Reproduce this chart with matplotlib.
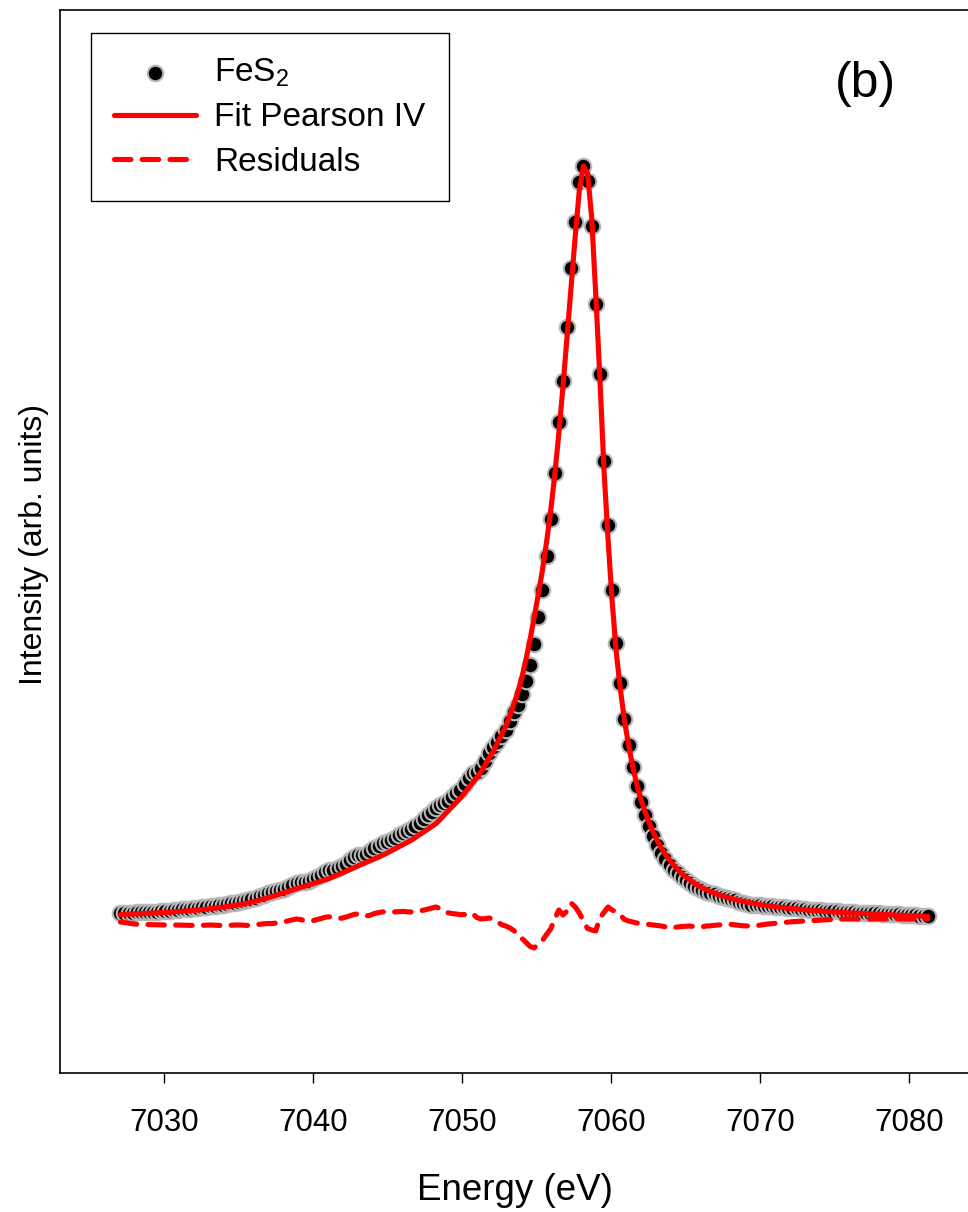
import matplotlib
matplotlib.use("Agg")
import matplotlib.pyplot as plt

# Fe K-beta emission of FeS2: measured points, Pearson IV fit and fit residuals
energy = [
    7027.050, 7027.325, 7027.600, 7027.875, 7028.150, 7028.425, 7028.700, 7028.975,
    7029.250, 7029.525, 7029.800, 7030.075, 7030.350, 7030.625, 7030.900, 7031.175,
    7031.450, 7031.725, 7032.000, 7032.275, 7032.550, 7032.825, 7033.100, 7033.375,
    7033.650, 7033.925, 7034.200, 7034.475, 7034.750, 7035.025, 7035.300, 7035.575,
    7035.850, 7036.125, 7036.400, 7036.675, 7036.950, 7037.225, 7037.500, 7037.775,
    7038.050, 7038.325, 7038.600, 7038.875, 7039.150, 7039.425, 7039.700, 7039.975,
    7040.250, 7040.525, 7040.800, 7041.075, 7041.350, 7041.625, 7041.900, 7042.175,
    7042.450, 7042.725, 7043.000, 7043.275, 7043.550, 7043.825, 7044.100, 7044.375,
    7044.650, 7044.925, 7045.200, 7045.475, 7045.750, 7046.025, 7046.300, 7046.575,
    7046.850, 7047.125, 7047.400, 7047.675, 7047.950, 7048.225, 7048.500, 7048.775,
    7049.050, 7049.325, 7049.600, 7049.875, 7050.150, 7050.425, 7050.700, 7050.975,
    7051.250, 7051.525, 7051.800, 7052.075, 7052.350, 7052.625, 7052.900, 7053.175,
    7053.450, 7053.725, 7054.000, 7054.275, 7054.550, 7054.825, 7055.100, 7055.375,
    7055.650, 7055.925, 7056.200, 7056.475, 7056.750, 7057.025, 7057.300, 7057.575,
    7057.850, 7058.125, 7058.400, 7058.675, 7058.950, 7059.225, 7059.500, 7059.775,
    7060.050, 7060.325, 7060.600, 7060.875, 7061.150, 7061.425, 7061.700, 7061.975,
    7062.250, 7062.525, 7062.800, 7063.075, 7063.350, 7063.625, 7063.900, 7064.175,
    7064.450, 7064.725, 7065.000, 7065.275, 7065.550, 7065.825, 7066.100, 7066.375,
    7066.650, 7066.925, 7067.200, 7067.475, 7067.750, 7068.025, 7068.300, 7068.575,
    7068.850, 7069.125, 7069.400, 7069.675, 7069.950, 7070.225, 7070.500, 7070.775,
    7071.050, 7071.325, 7071.600, 7071.875, 7072.150, 7072.425, 7072.700, 7072.975,
    7073.250, 7073.525, 7073.800, 7074.075, 7074.350, 7074.625, 7074.900, 7075.175,
    7075.450, 7075.725, 7076.000, 7076.275, 7076.550, 7076.825, 7077.100, 7077.375,
    7077.650, 7077.925, 7078.200, 7078.475, 7078.750, 7079.025, 7079.300, 7079.575,
    7079.850, 7080.125, 7080.400, 7080.675, 7080.950, 7081.225,
]

intensity = [
    7.7, 7.7, 8.1, 8.1, 8.6, 8.6, 9.0, 9.0, 9.5, 9.5,
    9.8, 10.3, 10.4, 11.0, 11.1, 11.6, 11.8, 12.5, 12.7, 13.4,
    13.7, 14.3, 14.6, 15.4, 15.7, 16.5, 16.9, 17.8, 18.2, 19.2,
    19.8, 20.9, 22.1, 23.4, 24.9, 26.4, 27.8, 28.8, 29.8, 30.9,
    31.6, 34.0, 36.3, 38.4, 39.1, 39.3, 40.2, 41.7, 44.2, 46.4,
    48.9, 50.7, 51.5, 52.7, 54.6, 57.5, 60.6, 63.7, 66.2, 66.3,
    67.5, 69.8, 72.9, 75.3, 77.6, 79.1, 81.2, 83.2, 85.7, 88.0,
    89.8, 91.8, 95.0, 98.5, 101.8, 105.6, 109.4, 113.3, 116.0, 117.7,
    120.4, 123.9, 127.8, 131.4, 136.7, 143.4, 147.7, 149.1, 153.0, 160.3,
    167.8, 173.6, 179.2, 184.8, 191.5, 200.2, 208.7, 216.5, 227.0, 240.5,
    256.5, 277.0, 304.5, 331.5, 365.5, 402.0, 448.0, 499.0, 540.0, 594.0,
    653.0, 699.0, 739.0, 755.0, 740.5, 695.0, 617.0, 547.0, 460.5, 396.0,
    331.0, 278.0, 238.0, 202.5, 176.0, 154.0, 135.0, 119.5, 106.5, 95.0,
    85.0, 76.2, 68.5, 61.7, 55.8, 51.5, 47.7, 44.3, 41.2, 38.5,
    35.4, 32.7, 30.8, 29.4, 27.8, 26.6, 25.3, 24.3, 23.3, 22.0,
    20.6, 19.4, 18.2, 17.4, 16.5, 16.1, 15.6, 15.4, 15.1, 14.8,
    14.4, 14.1, 13.7, 13.1, 13.0, 12.7, 12.1, 12.0, 11.5, 11.5,
    11.0, 10.9, 10.5, 10.4, 9.9, 9.8, 9.3, 9.3, 8.9, 8.9,
    8.5, 8.4, 8.0, 8.0, 7.7, 7.7, 7.3, 7.3, 6.9, 6.9,
    6.6, 6.5, 6.1, 6.1, 5.7, 5.5, 5.1, 4.7,
]

fit = [
    6.5, 6.7, 6.8, 7.0, 7.2, 7.4, 7.5, 7.7, 7.9, 8.1,
    8.3, 8.6, 8.8, 9.1, 9.4, 9.6, 9.9, 10.3, 10.6, 11.0,
    11.4, 11.8, 12.3, 12.8, 13.3, 13.8, 14.4, 15.0, 15.6, 16.3,
    17.1, 17.9, 18.8, 19.8, 20.9, 22.0, 23.2, 24.5, 25.8, 27.1,
    28.4, 29.8, 31.1, 32.4, 33.7, 34.9, 36.2, 37.4, 38.7, 39.9,
    41.1, 42.5, 44.3, 46.1, 47.8, 49.6, 51.4, 53.2, 55.0, 56.8,
    58.5, 60.3, 62.1, 63.9, 65.7, 67.8, 69.9, 72.1, 74.3, 76.4,
    78.6, 80.8, 83.5, 86.3, 89.0, 91.8, 94.5, 97.3, 101.5, 105.9,
    110.2, 114.5, 118.8, 123.1, 128.2, 133.4, 138.5, 143.6, 149.0, 155.9,
    162.8, 169.8, 178.0, 186.3, 194.5, 205.0, 216.5, 229.0, 244.0, 262.0,
    282.0, 304.0, 327.0, 351.0, 379.0, 410.0, 446.0, 488.0, 534.0, 584.0,
    635.0, 685.0, 731.0, 755.0, 748.0, 704.0, 627.0, 544.0, 452.0, 382.0,
    320.0, 269.0, 232.0, 201.0, 176.0, 155.0, 137.0, 122.0, 109.5, 98.5,
    89.0, 80.5, 73.0, 66.5, 61.0, 56.0, 51.5, 47.5, 44.0, 41.0,
    38.0, 35.5, 33.2, 31.2, 29.4, 27.8, 26.3, 25.0, 23.7, 22.6,
    21.5, 20.5, 19.6, 18.8, 18.0, 17.3, 16.4, 15.8, 15.2, 14.6,
    14.1, 13.6, 13.1, 12.7, 12.3, 11.9, 11.5, 11.1, 10.8, 10.5,
    10.2, 9.9, 9.6, 9.3, 9.0, 8.8, 8.5, 8.3, 8.0, 7.8,
    7.6, 7.4, 7.2, 7.0, 6.8, 6.6, 6.4, 6.3, 6.1, 5.9,
    5.8, 5.6, 5.4, 5.3, 5.1, 5.0, 4.8, 4.7,
]

residuals = [
    -1.0, -1.5, -2.2, -2.8, -3.2, -3.4, -3.5, -3.6, -3.6, -3.8,
    -4.0, -4.0, -4.1, -4.0, -4.1, -4.3, -4.4, -4.4, -4.6, -4.5,
    -4.3, -4.1, -4.0, -4.2, -4.5, -4.6, -4.5, -4.3, -4.0, -4.0,
    -4.2, -4.4, -4.1, -3.6, -3.3, -2.8, -2.5, -2.6, -2.0, -1.2,
    -0.8, 0.2, 1.2, 2.0, 1.4, 0.4, 0.0, 0.3, 1.5, 2.5,
    3.8, 4.2, 3.2, 2.6, 2.8, 3.9, 5.2, 6.5, 7.2, 5.5,
    5.0, 5.8, 7.5, 8.4, 9.2, 9.0, 9.3, 9.1, 9.4, 9.6,
    9.2, 9.0, 9.5, 10.2, 10.8, 11.8, 12.9, 14.0, 12.5, 9.8,
    8.2, 7.4, 7.0, 6.3, 6.5, 8.0, 7.2, 3.5, 2.0, 2.4,
    3.0, 1.8, -0.8, -3.5, -5.0, -6.8, -9.5, -13.5, -17.5, -21.5,
    -25.5, -27.0, -22.5, -19.5, -13.5, -8.0, 2.0, 11.0, 6.0, 10.0,
    18.0, 14.0, 8.0, 0.0, -7.5, -9.0, -10.0, 3.0, 8.5, 14.0,
    11.0, 9.0, 6.0, 1.5, 0.0, -1.0, -2.0, -2.5, -3.0, -3.5,
    -4.0, -4.5, -5.0, -5.8, -7.0, -6.5, -6.0, -5.5, -5.2, -5.0,
    -5.6, -6.2, -5.8, -5.0, -4.8, -4.3, -4.0, -3.6, -3.2, -3.4,
    -3.9, -4.3, -4.8, -5.0, -5.1, -4.8, -4.2, -3.6, -3.0, -2.6,
    -2.2, -1.8, -1.3, -1.0, -0.7, -0.5, -0.3, -0.1, 0.1, 0.4,
    0.7, 1.0, 1.2, 1.4, 1.6, 1.8, 1.9, 2.0, 2.0, 2.1,
    2.0, 1.9, 2.0, 2.1, 2.2, 2.1, 2.0, 1.9, 2.0, 2.1,
    2.2, 2.1, 2.0, 2.0, 2.1, 2.2, 2.0, 1.9,
]

xticks = [7030, 7040, 7050, 7060, 7070, 7080]

plt.rcParams['font.family'] = ['Liberation Sans', 'DejaVu Sans']
plt.rcParams['mathtext.fontset'] = 'custom'
plt.rcParams['mathtext.rm'] = 'Liberation Sans'
plt.rcParams['mathtext.it'] = 'Liberation Sans:italic'
plt.rcParams['mathtext.default'] = 'rm'

W, H = 968, 1212
fig = plt.figure(figsize=(W / 100, H / 100), dpi=100)
ax = fig.add_axes([60 / W, 139 / H, 915 / W, 1063 / H])

ax.scatter(energy, intensity, s=125, c='black', edgecolors='#b8b8b8',
           linewidths=1.5, zorder=2, label='FeS$_2$')
ax.plot(energy, fit, color='#ff0000', lw=3.7, zorder=3,
        solid_capstyle='round', solid_joinstyle='round', label='Fit Pearson IV')
ax.plot(energy, residuals, color='#ff0000', lw=3.7, zorder=4,
        linestyle=(0, (3.2, 2.2)), dash_capstyle='round', label='Residuals')

ax.set_xlim(7023.0, 7084.4)
ax.set_ylim(-152, 911)
ax.set_xticks(xticks)
ax.set_yticks([])
ax.tick_params(axis='x', direction='out', length=7, width=1.0,
               labelsize=22.5, pad=18)
for s in ax.spines.values():
    s.set_linewidth(1.2)

ax.set_xlabel('Energy (eV)', fontsize=26.5)
ax.xaxis.set_label_coords(0.497, -0.094)
ax.set_ylabel('Intensity (arb. units)', fontsize=23)
ax.yaxis.set_label_coords(-0.012, 0.497)

ax.text(0.88, 0.930, '(b)', transform=ax.transAxes, fontsize=36,
        ha='center', va='center')

leg = ax.legend(loc='upper left', bbox_to_anchor=(0.034, 0.978),
                borderaxespad=0, fontsize=24, frameon=True, fancybox=False,
                edgecolor='black', framealpha=1, scatterpoints=1,
                handlelength=2.45, handletextpad=0.55, borderpad=0.7,
                labelspacing=0.4)
leg.get_frame().set_linewidth(1.0)

fig.savefig('out.png', dpi=100)
